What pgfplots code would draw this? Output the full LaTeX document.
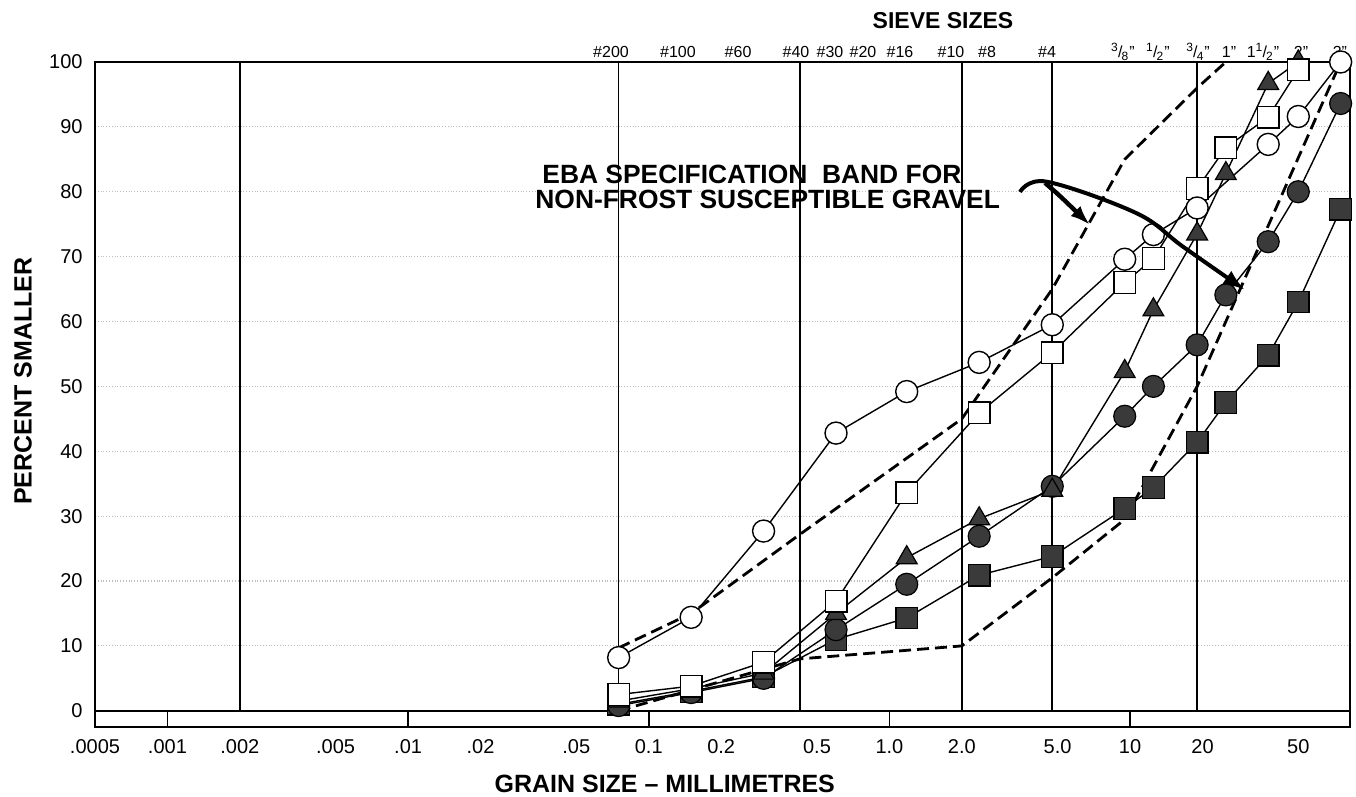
\documentclass[border=0pt]{standalone}
\usepackage{fontspec}
\setmainfont{Liberation Sans}
\usepackage{pgfplots}
\pgfplotsset{compat=1.18}
\usetikzlibrary{arrows.meta}
\definecolor{fillc}{HTML}{3A3A3A}
\newcommand{\sv}[2]{\node[font=\fontsize{8}{9}\selectfont, anchor=center, yshift=5pt, inner sep=0pt] at (rel axis cs:#1,1) {#2};}
\newcommand{\fr}[2]{\textsuperscript{#1}\kern-0.05em/\kern-0.05em\textsubscript{#2}}
\begin{document}
\begin{tikzpicture}
\useasboundingbox (-47.5pt,-35pt) rectangle (630.5pt,363.5pt);
\begin{axis}[
  scale only axis, width=627.5pt, height=332.5pt,
  xmode=log, xmin=0.0005, xmax=82, ymin=-2.5, ymax=100,
  axis line style={line width=1pt},
  xtick={0.0005,0.001,0.002,0.005,0.01,0.02,0.05,0.1,0.2,0.5,1,2,5,10,20,50},
  xticklabels={.0005,.001,.002,.005,.01,.02,.05,0.1,0.2,0.5,1.0,2.0,5.0,10,20,50},
  minor xtick={},
  ytick={0,10,...,100},
  major tick length=0pt,
  ymajorgrids, grid style={densely dotted, gray!50, line width=0.6pt},
  tick label style={font=\fontsize{10}{12}\selectfont},
  xticklabel style={anchor=center, yshift=-10pt},
  yticklabel style={anchor=east, xshift=-2.7pt},
  /pgf/number format/assume math mode=true,
  clip=false,
  xlabel={GRAIN SIZE -- MILLIMETRES},
  xlabel style={at={(axis description cs:0.454,-0.0857)}, anchor=center, font=\bfseries\fontsize{12.5}{14}\selectfont},
  ylabel={PERCENT SMALLER},
  ylabel style={at={(axis description cs:-0.0574,0.52)}, anchor=center, font=\bfseries\fontsize{12.5}{14}\selectfont},
  title={SIEVE SIZES},
  title style={at={(axis description cs:0.6757,1.0436)}, anchor=center, font=\bfseries\fontsize{11.5}{13}\selectfont},
]
% structure lines
\draw[line width=1pt] (axis cs:0.0005,0) -- (axis cs:82,0);
\pgfplotsinvokeforeach{0.002,0.075,0.425,2.0,4.75,19}{\draw[line width=0.8pt] (axis cs:#1,0) -- (axis cs:#1,100);}
\pgfplotsinvokeforeach{0.001,0.01,0.1,1,10}{\draw[line width=0.8pt] (axis cs:#1,-2.5) -- (axis cs:#1,0);}

% specification band
\addplot[black, line width=1.4pt, dash pattern=on 6pt off 3pt] coordinates {
(0.075,9.7)(0.15,15)(0.425,27.2)(2.0,45)(4.75,65)(9.5,85)(19,96)(25,100)};
\addplot[black, line width=1.4pt, dash pattern=on 6pt off 3pt] coordinates {
(0.075,0)(0.425,8)(2.0,10)(4.75,20.5)(9.5,29.5)(19,50)(75,100)};

% filled squares
\addplot[black, line width=0.7pt, mark=square*, mark size=5.4pt, mark options={fill=fillc, draw=black, line width=0.6pt, solid}] coordinates {
(0.075,1)(0.15,3)(0.3,5.2)(0.6,11)(1.18,14.3)(2.36,20.9)(4.75,23.8)(9.5,31.2)(12.5,34.4)(19,41.4)(25,47.5)(37.5,54.8)(50,63)(75,77.3)};
% filled circles
\addplot[black, line width=0.7pt, mark=*, mark size=5.5pt, mark options={fill=fillc, draw=black, line width=0.6pt, solid}] coordinates {
(0.075,0.8)(0.15,2.8)(0.3,5)(0.6,12.5)(1.18,19.5)(2.36,26.9)(4.75,34.6)(9.5,45.4)(12.5,50)(19,56.4)(25,64.1)(37.5,72.3)(50,80)(75,93.6)};
% filled triangles
\addplot[black, line width=0.7pt, mark=triangle*, mark size=6pt, mark options={fill=fillc, draw=black, line width=0.6pt, solid}] coordinates {
(0.075,1.5)(0.15,3.4)(0.3,5.8)(0.6,15)(1.18,23.6)(2.36,29.6)(4.75,34)(9.5,52.3)(12.5,61.8)(19,73.5)(25,82.8)(37.5,96.7)(50,100)};
% open squares
\addplot[black, line width=0.7pt, mark=square*, mark size=5.4pt, mark options={fill=white, draw=black, line width=0.7pt, solid}] coordinates {
(0.075,2.5)(0.15,3.8)(0.3,7.5)(0.6,16.9)(1.18,33.6)(2.36,45.9)(4.75,55.2)(9.5,66)(12.5,69.7)(19,80.5)(25,86.8)(37.5,91.5)(50,98.8)};
% open circles
\addplot[black, line width=0.7pt, mark=*, mark size=5.5pt, mark options={fill=white, draw=black, line width=0.7pt, solid}] coordinates {
(0.075,8.2)(0.15,14.4)(0.3,27.7)(0.6,42.8)(1.18,49.2)(2.36,53.7)(4.75,59.5)(9.5,69.6)(12.5,73.4)(19,77.5)(37.5,87.3)(50,91.6)(75,100)};

% sieve labels
\sv{0.4112}{\#200}
\sv{0.4645}{\#100}
\sv{0.5124}{\#60}
\sv{0.5586}{\#40}
\sv{0.5857}{\#30}
\sv{0.6120}{\#20}
\sv{0.6414}{\#16}
\sv{0.6821}{\#10}
\sv{0.7108}{\#8}
\sv{0.7586}{\#4}
\sv{0.8191}{\fr{3}{8}"}
\sv{0.8470}{\fr{1}{2}"}
\sv{0.8789}{\fr{3}{4}"}
\sv{0.9036}{1"}
\sv{0.9307}{1\fr{1}{2}"}
\sv{0.9610}{2"}
\sv{0.9920}{3"}
\end{axis}
% annotation
\node[anchor=west, inner sep=0pt, font=\bfseries\fontsize{13.2}{15}\selectfont] at (223.5pt,276.5pt) {EBA SPECIFICATION\ \ BAND FOR};
\node[anchor=west, inner sep=0pt, font=\bfseries\fontsize{13.2}{15}\selectfont] at (220pt,263.75pt) {NON-FROST SUSCEPTIBLE GRAVEL};
\draw[line width=2pt, -{Latex[length=11pt,width=8pt]}] plot[smooth, tension=0.6] coordinates {(462.5pt,267.5pt) (475.85pt,272.65pt) (520.85pt,256.85pt) (544pt,240.15pt) (575pt,218.5pt)};
\draw[line width=2.2pt, -{Latex[length=10pt,width=7pt]}] (475pt,272pt) .. controls (482pt,266pt) .. (497.5pt,251pt);
\end{tikzpicture}
\end{document}
